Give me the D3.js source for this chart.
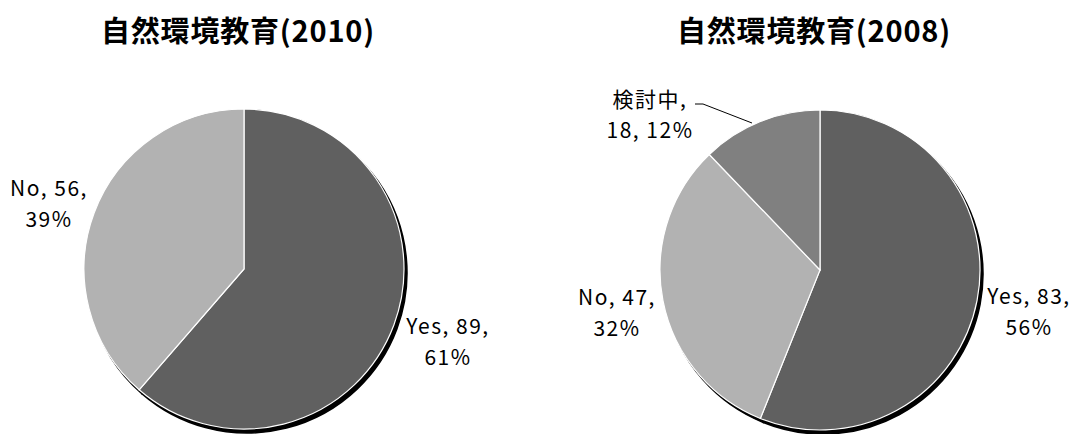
<!DOCTYPE html>
<html><head><meta charset="utf-8">
<script src="https://cdn.jsdelivr.net/npm/d3@7"></script>
<style>body{margin:0;background:#fff}</style>
</head><body>
<svg id="c" width="1078" height="434"></svg>
<script>
const titles = ["自然環境教育(2010)", "自然環境教育(2008)"];
const categories2010 = ["Yes", "No"];
const values2010 = [89, 56];
const pct2010 = ["61%", "39%"];
const categories2008 = ["Yes", "No", "検討中"];
const values2008 = [83, 47, 18];
const pct2008 = ["56%", "32%", "12%"];
const colors = {"Yes": "#606060", "No": "#b2b2b2", "検討中": "#808080"};

const svg = d3.select("#c");
const charts = [
  {title: titles[0], cats: categories2010, vals: values2010, pcts: pct2010, cx: 244, cy: 269, tx: 238,
   labels: [{x: 448, y: 334, lines: ["Yes, 89,", "61%"]}, {x: 49, y: 196, lines: ["No, 56,", "39%"]}]},
  {title: titles[1], cats: categories2008, vals: values2008, pcts: pct2008, cx: 820, cy: 270, tx: 814,
   labels: [{x: 1029, y: 304, lines: ["Yes, 83,", "56%"]}, {x: 617, y: 305, lines: ["No, 47,", "32%"]},
            {x: 650, y: 107, lines: ["検討中,", "18, 12%"], leader: [[695, 104], [703, 104], [752, 123]]}]}
];
const r = 160;
charts.forEach(ch => {
  const data = ch.cats.map((c, i) => ({cat: c, v: ch.vals[i]}));
  const pie = d3.pie().value(d => d.v).sort(null);
  const arc = d3.arc().innerRadius(0).outerRadius(r);
  const arcs = pie(data);
  const g = svg.append("g").attr("transform", `translate(${ch.cx},${ch.cy})`);
  // shadow
  g.append("g").attr("transform", "translate(3,4)").selectAll("path").data(arcs).join("path")
    .attr("d", arc).attr("fill", "#000").attr("stroke", "#000").attr("stroke-width", 1.5);
  g.selectAll("path.s").data(arcs).join("path").attr("class", "s")
    .attr("d", arc).attr("fill", d => colors[d.data.cat]).attr("stroke", "#fff").attr("stroke-width", 1.2);
  svg.append("text").attr("x", ch.tx).attr("y", 42).attr("text-anchor", "middle")
    .attr("font-family", "'Noto Sans CJK JP'").attr("font-weight", "bold").attr("font-size", 29)
    .attr("letter-spacing", 0.8)
    .text(ch.title);
  ch.labels.forEach(l => {
    const t = svg.append("text").attr("text-anchor", "middle")
      .attr("font-family", "'Noto Sans CJK JP'").attr("font-size", 21).attr("fill", "#000")
      .attr("letter-spacing", 1.5);
    l.lines.forEach((s, i) => t.append("tspan").attr("x", l.x).attr("y", l.y + i * 31).text(s));
    if (l.leader) svg.append("path").attr("d", d3.line()(l.leader)).attr("fill", "none").attr("stroke", "#000").attr("stroke-width", 1);
  });
});
</script>
</body></html>
